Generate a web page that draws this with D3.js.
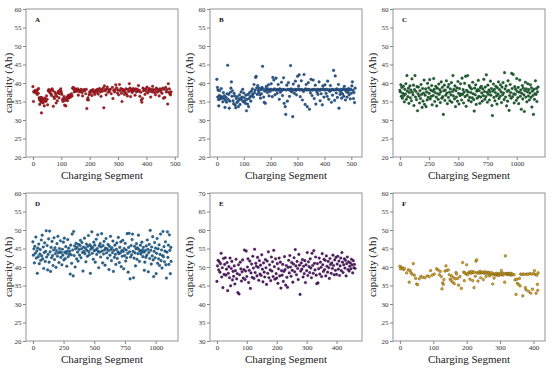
<!DOCTYPE html>
<html>
<head>
<meta charset="utf-8">
<script src="https://cdn.jsdelivr.net/npm/d3@7"></script>
<style>
  body { margin: 0; background: #fff; }
  text { font-family: "Liberation Serif", "Times New Roman", serif; }
</style>
</head>
<body>
<div class="canvas"></div>
<script>
// capacity readings per charging segment, [segment, Ah]
const dataA = [[0,39],[2,35],[3,37.6],[5,37.8],[7,37.5],[9,38],[11,37.4],[13,37.7],[15,36.9],[17,38.2],[19,37.2],[20,38.5],
[22,36],[23,35.5],[24,34.2],[25,35.8],[27,35.2],[28,36.1],[29,34.8],[30,31.9],[31,35.5],[32,36],[33,35.1],[35,35.6],[36,34.6],[38,35.3],[40,33.8],[42,35.9],[44,35.2],[46,35],[48,36.5],[50,35.6],[52,34.1],[54,37.9],
[56,38.2],[58,37.7],[60,37.4],[62,38.1],[64,37],[66,36.6],[68,38.4],[70,37.9],[72,33.7],[74,36.2],[76,35.8],[78,37.5],[80,36.9],[82,34.6],[84,36.4],[86,35.2],[88,37.3],[90,37.8],[92,36],[94,37.1],[96,38],[98,38.4],[100,37.6],
[102,36.9],[104,35.5],[106,35],[108,35.8],[110,36.3],[112,34],[114,35.3],[116,33.8],[118,35.7],[120,36.1],[122,35.2],[124,36.6],[126,35.9],[128,36.3],[130,36.8],[133,36.2],[136,37.1],[138,36.5],
[140,38.6],[142,38.8],[144,38.3],[146,37.6],[148,38.5],[150,37.9],[152,38.2],[155,37.7],[158,38.4],[160,36.7],[162,38],[165,37.6],[168,38.1],[170,38.3],[173,37.4],[175,36.5],[178,37.9],[180,38.2],[183,38],[186,37.1],[188,38.3],[190,33.1],[192,35.5],[194,36],[196,35.4],[198,36.8],[200,37.6],[202,37.2],[205,38],[208,36.6],[210,37.7],[212,38.2],[215,37.4],[218,36.9],[220,37.8],[223,38.1],[225,37.5],[228,38.3],[230,37],[232,37.9],[235,38.5],[238,37.6],[240,36.4],[242,38.2],[245,37.8],[248,38.6],[250,33.3],[252,39.2],[254,37.9],[256,38.1],[258,36.8],[260,38.4],[262,38.9],[265,37.5],[268,38.2],[270,37.7],[273,38.3],[276,37.1],[280,38.8],[282,35.8],[285,38],[288,37.6],[290,38.2],[292,39.5],[295,38.7],[298,37.3],[300,38.1],[302,36.8],[305,39.6],[307,37.9],[310,38.5],[312,37.2],[314,35],[316,38.3],[318,37.8],[320,38.1],[323,36.9],[325,37.6],[328,38.4],[330,37.1],[333,36.5],[335,38.2],[338,37.7],[340,39.8],[342,38.6],[344,36.3],[346,37.9],[348,38.2],[350,37.4],[353,38.5],[355,37.9],[358,38.1],[360,36.7],[362,38.4],[365,37.6],[368,38.3],[370,37.8],[372,39.3],[375,38],[377,36.4],[380,37.5],[382,35.4],[384,34.8],[386,35.8],[388,38.6],[390,37.9],[392,38.2],[395,36.9],[398,38.4],[400,37.7],[402,38.9],[405,37.3],[408,38.1],[410,38.5],[412,37.8],[415,36.2],[418,38.3],[420,37.6],[422,39.1],[425,38.2],[428,37.4],[430,38],[432,36.8],[435,38.6],[438,37.5],[440,38.2],[442,37.9],[445,36.5],[448,38.4],[450,37.7],[452,38.1],[455,37.2],[458,38.6],[460,35.9],[462,38.3],[465,36.1],[468,38.8],[470,37.6],[472,38.2],[475,34.3],[477,39.8],[479,37.5],[481,38.4],[483,37],[485,36.8],[487,37.6]];

const dataB = [[0,41],[2,38.8],[3,36.2],[4,38.1],[6,35.5],[7,33.8],[9,36.6],[10,37.9],[12,35.7],[14,36.4],[16,38.5],[18,35.9],[20,36.2],[22,34.9],[24,37.4],[26,35.8],[28,36.6],[30,33.4],[32,35.3],[34,36.1],[36,34.8],[38,37.1],[40,44.8],[42,35.6],[44,36.9],[46,33.2],[48,35.1],[50,37.5],[52,38.6],[54,40.3],[56,36.4],[58,37.9],[60,35.2],[62,34.4],[64,37.2],[66,36.5],[68,34],[70,33.3],[72,35.8],[74,34.7],[76,36.3],[78,35],[80,33.6],[82,35.5],[84,36.8],[86,34.2],[88,35.9],[90,37.6],[92,35.4],[94,36.2],[96,38.3],[98,34.9],[100,37.3],[102,36],[104,35.2],[106,34.5],[108,36.7],[110,32.5],[112,35.6],[114,34.3],[116,36.9],[118,33.6],[120,35.8],[122,37.4],[124,36.3],[126,35.1],[128,37.8],[130,36.6],[132,38.4],[134,37],[136,36.2],[138,39.6],[140,37.4],[142,38.1],[144,41.5],[146,41.8],[148,38.7],[150,36.9],
[152,39.3],[154,38],[156,37.5],[158,38.6],[160,36.8],[162,35.9],[164,38.2],[166,37.1],[168,38.8],[170,44.5],[172,38.3],[174,36.2],[176,34.8],[178,37.8],[180,34.5],[182,38.5],[184,39.1],[186,38.1],[188,37.4],[190,38.4],[192,39.5],[194,36.5],[196,38],[198,37.7],[200,38.3],[202,39.8],[204,38.2],[206,36.3],[208,41.5],[210,38.1],[212,40.8],[214,38.4],[216,36.8],[218,38.2],[220,41.3],[222,38],[224,37.2],[226,38.3],[228,39.6],[230,38.1],[232,35.6],[234,38.4],[236,37.5],[238,38.2],[240,40.2],[242,38],[244,36.6],[246,38.3],[248,41.4],[250,34.5],[252,38.2],[254,33.6],[256,31.5],[258,38.1],[260,39.4],[262,35.1],[264,38.3],[266,40.1],[268,38.2],[270,36.4],[272,38],[274,44.7],[276,38.4],[278,37.6],[280,38.2],[282,30.9],[284,39.7],[286,38.1],[288,37.2],[290,38.3],[292,40.5],[294,38],[296,36.8],[298,38.2],[300,41.8],[302,38.4],[304,39.2],[306,42.2],[308,38.1],[310,36.3],[312,38.3],[314,40.6],[316,38.2],[318,35.4],[320,38],[322,37.7],[324,42.3],[326,38.2],[328,34.2],[330,38.4],[332,39.6],[334,38.1],[336,33.6],[338,38.2],[340,40.1],[342,38.3],[344,32.9],[346,38],[348,37.3],[350,41],[352,38.2],[354,36.6],[356,38.1],[358,40.8],[360,38.3],[362,35.8],[364,38.2],[366,39.4],[368,34.3],[370,38.1],[372,37.5],[374,38.3],[376,36.9],[378,38.2],[380,40.3],[382,38],[384,35.2],[386,38.3],[388,37.1],[390,38.2],[392,34.1],[394,39.2],[396,38.4],[398,36.2],[400,38.1],[402,39.5],[404,38.2],[406,37.2],[408,38.3],[410,36.4],[412,40.5],[414,38.1],[416,35.6],[418,38.2],[420,37.7],[422,39.3],[424,38],[426,34.8],[428,38.3],[430,36.7],[432,38.2],[434,43.4],[436,38.1],[438,35.3],[440,41.9],[442,38.2],[444,37.3],[446,38.4],[448,36.1],[450,38.2],[452,39.6],[454,33.2],[456,38],[458,36.9],[460,38.3],[462,37.5],[464,35.9],[466,38.2],[468,37],[470,38.4],[472,36.4],[474,39.1],[476,38.1],[478,35.4],[480,38.3],[482,37.6],[484,36.2],[486,38.2],[488,37.4],[490,38.5],[492,36.8],[494,38.1],[496,35.7],[498,38.3],[500,37.2],[502,39.2],[504,40.3],[506,38],[508,35.8],[510,37.4],[512,34.7],[514,38.6]];

const dataC = [[0,38],[4,37.6],[8,39.5],[12,36.4],[16,38.8],[21,35.9],[25,37.2],[30,39.1],[34,36.6],[38,34.9],[42,38.3],[47,37],[51,39.8],[55,35.6],[60,42],[64,37.8],[68,36.3],[73,38.6],[77,34.5],[81,37.4],[86,39.2],[90,36],[94,38.1],[99,35.2],[103,41.1],[107,37.5],[112,36.8],[116,39.4],[120,33.9],[125,38.2],[129,42],[133,36.2],[138,37.7],[142,35.5],[146,39],[151,32.5],[155,37.1],[159,38.9],[164,36.5],[168,34.6],[172,37.9],[177,35.8],[181,39.6],[185,36.9],[190,33.4],[194,38.5],[198,35.1],[203,37.3],[207,40.8],[211,34.2],[216,36.7],[220,38.4],[224,33.6],[229,37.6],[233,35.4],[237,39.9],[242,36.1],[246,38.7],[250,37.2],[255,40.9],[259,35.7],[263,38.1],[268,36.4],[272,39.3],[276,34.1],[281,37.8],[285,36.6],[289,41.2],[294,38.3],[298,35],[302,37.4],[307,39.1],[311,36.2],[315,33.8],[320,38.6],[324,37.1],[328,35.6],[333,39.7],[337,36.9],[341,38.2],[346,34.7],[350,37.6],[354,40.3],[359,35.9],[363,38.8],[367,36.3],[372,31.5],[376,37.9],[380,39.4],[385,35.3],[389,38.1],[393,36.7],[398,40.6],[402,37.3],[406,34.4],[411,38.9],[415,36.1],[419,39.6],[424,37.5],[428,35.2],[432,38.4],[437,36.8],[441,40.1],[445,34.8],[450,37.7],[454,42],[458,36.5],[463,38.3],[467,35.7],[471,39.2],[476,33.6],[480,37.9],[484,36.2],[489,38.7],[493,35.1],[497,40.4],[502,37.2],[506,34.3],[510,38.5],[515,36.6],[519,39.8],[523,37],[528,35.4],[532,41.3],[536,36.9],[541,38.2],[545,34.6],[549,37.5],[554,39.9],[558,36.3],[562,41.8],[567,33.7],[571,38],[575,36.7],[580,42],[584,37.6],[588,35.3],[593,39.3],[597,36.1],[601,38.8],[606,37.4],[610,34.9],[614,38.4],[619,36],[623,40.2],[627,37.1],[632,35.5],[636,32.4],[640,38.6],[645,36.8],[649,39.5],[653,34.2],[658,37.8],[662,35.9],[666,38.2],[671,40.7],[675,36.4],[679,37.9],[684,34.5],[688,38.7],[692,36.2],[697,39.1],[701,37.3],[705,35.1],[710,38.4],[714,36.6],[718,41],[723,37.7],[727,35.6],[731,38.9],[736,36.3],[740,42.2],[744,37.5],[749,34.8],[753,39.4],[757,36.9],[762,38.1],[766,35.4],[770,37.6],[775,40.5],[779,36.7],[783,38.5],[788,33.9],[792,31.2],[796,37.8],[801,39.7],[805,36.1],[809,38.3],[814,35.2],[818,37.4],[822,39.1],[827,36.5],[831,34.3],[835,38.7],[840,37],[844,40.3],[848,35.8],[853,38.2],[857,36.4],[861,39.5],[866,37.6],[870,34.7],[874,38.9],[879,36.8],[883,40.1],[887,37.3],[892,35.5],[896,42.8],[900,38.4],[905,36.2],[909,39.2],[913,33.8],[918,37.7],[922,35.1],[926,40.6],[931,38],[935,32.6],[939,36.6],[944,39.6],[948,37.4],[952,35.9],[957,42.6],[961,38.5],[965,36.3],[970,42.3],[974,37.1],[978,34.6],[983,39],[987,36.9],[991,38.3],[996,35.3],[1000,41.2],[1004,37.7],[1009,36],[1013,38.8],[1017,34.4],[1022,37.5],[1026,40.8],[1030,36.4],[1035,38.1],[1039,32.9],[1043,37.2],[1048,39.3],[1052,35.7],[1056,38.6],[1061,36.8],[1065,32.3],[1069,37.9],[1074,40.2],[1078,36.2],[1082,38.4],[1087,34.9],[1091,37.6],[1095,39.8],[1100,36.5],[1104,38.2],[1108,35.4],[1113,37.3],[1117,39.5],[1121,36.1],[1126,38.7],[1130,33.5],[1134,37.8],[1139,36.6],[1143,31.5],[1147,38.3],[1152,35.6],[1156,37.1],[1160,40.6],[1165,36.9],[1169,38.5],[1173,35],[1178,37.6],[1183,38.9]];

const dataD = [[0,46.8],[4,43.2],[8,44.9],[12,41.1],[16,45.6],[20,43.7],[24,48.1],[28,42.4],[32,44.3],[36,38.3],[40,45.1],[44,42.8],[48,46.2],[52,40.9],[56,43.5],[60,44.7],[64,41.8],[68,47.3],[72,43],[76,48.6],[80,42.2],[84,45.4],[88,39.6],[92,43.9],[96,46.5],[100,41.5],[104,44.2],[108,49.8],[112,42.7],[116,45.8],[120,39.2],[124,43.4],[128,47.6],[132,41.3],[136,49.7],[140,44.1],[144,38.8],[148,45.3],[152,42.5],[156,46.9],[160,43.1],[164,40.4],[168,44.6],[172,47.9],[176,42],[180,45.2],[184,43.6],[188,39.9],[192,44.4],[196,46.3],[200,42.9],[204,48.3],[208,43.8],[212,41.2],[216,45],[220,44.1],[224,47.1],[228,42.6],[232,43.9],[236,40.6],[240,44.8],[244,43.2],[248,46.7],[252,41.9],[256,47.8],[260,44],[264,42.3],[268,45.5],[272,43.7],[276,40.2],[280,44.3],[284,47.4],[288,42.8],[292,45.1],[296,43.5],[300,44.2],[304,38.1],[308,45.9],[312,43.3],[316,41],[320,48.9],[324,44.6],[328,37.6],[332,49.6],[336,43.1],[340,45.7],[344,40],[348,44.9],[352,46.4],[356,42.2],[360,45.3],[364,44],[368,41.6],[372,46.1],[376,44.7],[380,43.2],[384,45.8],[388,47.2],[392,42.5],[396,44.9],[400,46.6],[404,43.9],[408,38.9],[412,45.4],[416,44.2],[420,47.8],[424,43.6],[428,45.1],[432,41.4],[436,46.2],[440,44.5],[444,42.9],[448,45.6],[452,48.5],[456,44.1],[460,43.3],[464,46],[468,38.3],[472,44.8],[476,45.5],[480,49.5],[484,43.7],[488,45.2],[492,42.1],[496,46.7],[500,44.4],[504,45.9],[508,41.3],[512,44.6],[516,47.5],[520,43.4],[524,45],[528,48.7],[532,44.2],[536,39.8],[540,45.7],[544,44],[548,46.3],[552,42.7],[556,45.4],[560,49],[564,44.3],[568,41.1],[572,45.8],[576,43.5],[580,46.9],[584,44.6],[588,40.5],[592,45.1],[596,47.7],[600,43.8],[604,44.9],[608,42.4],[612,46.1],[616,44.4],[620,39.3],[624,45.6],[628,43.2],[632,48.3],[636,44.7],[640,41.7],[644,45.2],[648,43.9],[652,47],[656,38.8],[660,44.5],[664,42.6],[668,45.9],[672,43.4],[676,40.7],[680,44.8],[684,46.5],[688,42.3],[692,44.1],[696,48],[700,43.6],[704,41.2],[708,45.3],[712,43.8],[716,46.8],[720,40.1],[724,44.4],[728,42.9],[732,47.2],[736,44.2],[740,39.5],[744,45],[748,43.1],[752,46.4],[756,41.6],[760,44.6],[764,42.5],[768,49],[772,43.7],[776,38.6],[780,45.3],[784,49.1],[788,44.1],[792,36.8],[796,42.7],[800,45.8],[804,43.3],[808,47.4],[812,48.9],[816,44.2],[820,37.1],[824,42.4],[828,45.6],[832,43.8],[836,40.3],[840,44.9],[844,46.3],[848,42.1],[852,45.2],[856,43.6],[860,48.6],[864,44.7],[868,41.5],[872,44.3],[876,45.9],[880,43.5],[884,44.1],[888,46.7],[892,44.6],[896,42.8],[900,45.3],[904,44],[908,39.1],[912,41.3],[916,44.4],[920,42.6],[924,45.7],[928,43.2],[932,47.3],[936,44.8],[940,38.7],[944,43.9],[948,46.1],[952,42.3],[956,49.9],[960,44.5],[964,40.8],[968,45.4],[972,43],[976,48.2],[980,41.9],[984,37.4],[988,44.2],[992,46.6],[996,42.5],[1000,45.1],[1004,38.2],[1008,43.7],[1012,47.7],[1016,41],[1020,44.9],[1024,42.2],[1028,46],[1032,40.4],[1036,43.4],[1040,48.9],[1044,41.7],[1048,44.6],[1052,39.7],[1056,43.1],[1060,49.6],[1064,42.8],[1068,45.5],[1072,41.4],[1076,44.3],[1080,46.8],[1084,40.6],[1088,37],[1092,44],[1096,49.5],[1100,42.6],[1104,45.9],[1108,40.7],[1112,48.7],[1116,44.5],[1120,38.2],[1124,45.3],[1126,41.5]];

const dataE = [[0,46.1],[2,50.3],[4,51.8],[6,49.2],[8,51.4],[10,48.6],[12,50.9],[14,53.7],[16,47.3],[18,49.8],[20,44.4],[22,52.3],[24,48],[26,50.7],[28,52.5],[30,47.8],[32,49.4],[34,51.2],[36,43.6],[38,48.3],[40,50.1],[42,47.1],[44,52.4],[46,44.9],[48,49.6],[50,51.5],[52,46.5],[54,48.8],[56,47.5],[58,50.3],[60,45.4],[62,49],[64,52.1],[66,46.8],[68,48.2],[70,43.1],[72,50.6],[74,42.7],[76,47.9],[78,51.3],[80,49.5],[82,46.2],[84,48.7],[86,51.9],[88,47],[90,49.3],[92,54.6],[94,46.6],[96,48.9],[98,54.3],[100,47.4],[102,50],[104,52.2],[106,45.8],[108,49.1],[110,51.6],[112,44.2],[114,48.4],[116,50.8],[118,47.2],[120,52.9],[122,49.7],[124,46.9],[126,54.8],[128,48.5],[130,51],[132,50.2],[134,47.6],[136,52.6],[138,49.9],[140,46.4],[142,51.7],[144,48.1],[146,50.5],[148,47.7],[150,53.3],[152,49.4],[154,46],[156,51.1],[158,48.6],[160,47.3],[162,52],[164,49.8],[166,45.3],[168,51.6],[170,48.3],[172,54.1],[174,47.1],[176,50.6],[178,49.2],[180,46.3],[182,52.7],[184,48.9],[186,51.4],[188,47.4],[190,54.5],[192,50.1],[194,46.7],[196,52.2],[198,48.2],[200,47],[202,50.9],[204,45.6],[206,49.5],[208,52.4],[210,47.6],[212,51.3],[214,44.3],[216,49],[218,47.8],[220,50.7],[222,46.1],[224,48.8],[226,52.8],[228,49.3],[230,45.1],[232,50.4],[234,47.2],[236,44.5],[238,49.9],[240,51.8],[242,48.4],[244,53.1],[246,50],[248,47.5],[250,51.2],[252,49.1],[254,45.9],[256,50.8],[258,52.5],[260,48.7],[262,54.7],[264,50.3],[266,47.9],[268,51.5],[270,49.6],[272,46.6],[274,53.4],[276,50.5],[278,42.6],[280,48.9],[282,51.1],[284,49.4],[286,52],[288,47.3],[290,50.2],[292,48.2],[294,51.7],[296,45.8],[298,50.6],[300,49],[302,53.9],[304,47.7],[306,51.4],[308,50.1],[310,48.5],[312,52.2],[314,49.7],[316,47.1],[318,53.7],[320,50.4],[322,48.3],[324,54.4],[326,51],[328,49.2],[330,52.7],[332,47.8],[334,45.5],[336,50.9],[338,45.7],[340,49.5],[342,52.4],[344,48.1],[346,51.3],[348,49.9],[350,47.4],[352,53.6],[354,50.6],[356,48.8],[358,52.1],[360,49.3],[362,51.8],[364,47.6],[366,53],[368,50.2],[370,48.6],[372,51.5],[374,49.8],[376,46.9],[378,52.3],[380,50.7],[382,48.3],[384,51.1],[386,49.6],[388,53.2],[390,50.4],[392,47.9],[394,51.9],[396,49.1],[398,52.6],[400,48],[402,50.8],[404,52.9],[406,49.4],[408,51.6],[410,47.7],[412,50.3],[414,52.4],[416,49],[418,53.9],[420,51.3],[422,48.5],[424,50.6],[426,52.2],[428,49.7],[430,51.8],[432,47.6],[434,50.9],[436,52.7],[438,49.3],[440,51.4],[442,48.9],[444,50.2],[446,51.1],[448,49.5],[450,52.1],[452,50.6],[454,48.4],[456,51.7],[458,49.8],[460,50.7],[462,49.6]];

const dataF = [[0,40.2],[2,39.5],[5,39.9],[8,39.7],[11,39.3],[14,39.6],[20,38.4],[25,39.2],[28,35.9],[30,39.1],[33,38.5],[36,38.1],[40,40.9],[43,37.8],[47,36.9],[50,35.4],[53,35.2],[58,36.8],[63,37.5],[68,37.2],[75,37.1],[82,37.6],[88,37.4],[92,39],[97,37.8],[103,38.1],[110,39.5],[114,39.2],[118,37.9],[121,38.8],[124,37.4],[126,34.1],[128,35.7],[130,35.3],[132,36.6],[135,38.9],[138,40.3],[141,39.1],[145,39.2],[148,37.9],[151,36.7],[153,36.4],[155,37.6],[158,35.9],[161,37.1],[163,35.5],[166,36.8],[168,38.5],[170,38.1],[173,36.9],[176,35.1],[180,37.4],[184,34.2],[188,41.2],[191,38.6],[193,36.3],[195,38.4],[198,38.1],[200,40.6],[203,37.9],
[206,38.4],[208,38.7],[210,36.7],[212,38.5],[214,38.3],[216,38.8],[218,36.3],[220,38.5],[222,34.4],[224,38.6],[226,37.5],[228,41.6],[230,41.9],[232,38.4],[234,36.2],[236,38.6],[238,38.3],[240,38.8],[242,37.1],[244,38.4],[246,38.6],[248,38.5],[250,36.6],[252,38.3],[254,38.7],[256,38.4],[258,37.4],[260,38.5],[262,38.2],[264,38.6],[266,38.4],[268,37.6],[270,38.3],[272,38.1],[274,38.5],[276,37.9],[278,35.4],[280,38.2],[282,37],[284,38],[286,38.1],[288,37.8],[290,38.3],[292,37.9],[294,38.1],[296,37.7],[298,38.2],[300,37.9],[302,38.1],[304,39],[306,38.2],[308,37.8],[310,38.3],[312,38.1],[314,35.9],[316,43],[318,38.2],[320,38],[322,38.3],[324,38.1],[326,37.9],[328,38.2],[330,38],[332,38.3],[334,37.8],[336,38.1],[338,38],
[342,37.9],[345,36.5],[348,32.6],[350,36.7],[352,35.6],[355,35.3],[358,36.9],[360,34.9],[362,38.1],[365,38],[368,32.2],[370,38.1],[373,38],[376,34.4],[378,33.8],[380,38.1],[383,38],[386,33.4],[389,38.2],[392,32.9],[394,38.1],[397,34],[400,38.2],[403,39],[405,38],[408,32.9],[410,37.8],[412,35.3],[413,33.7],[414,38.4]];

// tick values
const xTicks500 = [0, 100, 200, 300, 400, 500];
const xTicks1000 = [0, 250, 500, 750, 1000];
const xTicks400 = [0, 100, 200, 300, 400];
const yTicks20 = [20, 25, 30, 35, 40, 45, 50, 55, 60];
const yTicks30 = [30, 35, 40, 45, 50, 55, 60, 65, 70];

const panels = [
  { letter: 'A', data: dataA, color: '#c0141c', xTicks: xTicks500, yTicks: yTicks20, col: 0, row: 0 },
  { letter: 'B', data: dataB, color: '#1f5c9e', xTicks: xTicks500, yTicks: yTicks20, col: 1, row: 0 },
  { letter: 'C', data: dataC, color: '#14662a', xTicks: xTicks1000, yTicks: yTicks20, col: 2, row: 0 },
  { letter: 'D', data: dataD, color: '#1d6ba3', xTicks: xTicks1000, yTicks: yTicks20, col: 0, row: 1 },
  { letter: 'E', data: dataE, color: '#5a1670', xTicks: xTicks400, yTicks: yTicks30, col: 1, row: 1 },
  { letter: 'F', data: dataF, color: '#dba514', xTicks: xTicks400, yTicks: yTicks20, col: 2, row: 1 }
];

// layout
const width = 550;
const height = 368;
const colLeft = [26, 210, 393];
const rowTop = [9, 193];
const plotW = 152;
const plotH = 148;
const yLabelOffset = [17, 20, 20];

const svg = d3
  .select('.canvas')
  .append('svg')
  .attr('width', width)
  .attr('height', height);

panels.forEach(p => {
  const g = svg
    .append('g')
    .attr('transform', `translate(${colLeft[p.col]}, ${rowTop[p.row]})`);

  // matplotlib style 5% padding on x
  const ext = d3.extent(p.data, d => d[0]);
  const pad = (ext[1] - ext[0]) * 0.05;
  const x = d3.scaleLinear().domain([ext[0] - pad, ext[1] + pad]).range([0, plotW]);
  const y = d3.scaleLinear().domain(d3.extent(p.yTicks)).range([plotH, 0]);

  const xAxis = d3.axisBottom(x).tickValues(p.xTicks).tickFormat(d3.format('d')).tickSize(3).tickPadding(1.5);
  const yAxis = d3.axisLeft(y).tickValues(p.yTicks).tickFormat(d3.format('d')).tickSize(3).tickPadding(1.5);

  const xg = g.append('g').attr('transform', `translate(0, ${plotH})`).call(xAxis);
  const yg = g.append('g').call(yAxis);

  [xg, yg].forEach(ag => {
    ag.select('.domain').remove();
    ag.selectAll('line').attr('stroke', '#666').attr('stroke-width', 0.8);
    ag.selectAll('text')
      .attr('fill', '#333')
      .style('font-size', '7px')
      .style('font-family', '"Liberation Serif", "Times New Roman", serif');
  });

  // points
  g.append('g')
    .selectAll('circle')
    .data(p.data)
    .enter()
    .append('circle')
    .attr('cx', d => x(d[0]))
    .attr('cy', d => y(d[1]))
    .attr('r', 1.35)
    .attr('fill', p.color)
    .attr('stroke', '#222')
    .attr('stroke-width', 0.3);

  // frame
  g.append('rect')
    .attr('width', plotW)
    .attr('height', plotH)
    .attr('fill', 'none')
    .attr('stroke', '#888')
    .attr('stroke-width', 0.9);

  // panel letter
  g.append('text')
    .attr('x', 9)
    .attr('y', 13)
    .attr('font-size', 7)
    .attr('font-weight', 'bold')
    .attr('fill', '#111')
    .text(p.letter);

  // axis titles
  g.append('text')
    .attr('x', plotW / 2)
    .attr('y', plotH + 22)
    .attr('text-anchor', 'middle')
    .attr('font-size', 11)
    .attr('fill', '#222')
    .text('Charging Segment');

  g.append('text')
    .attr('transform', `translate(${-yLabelOffset[p.col]}, ${plotH / 2}) rotate(-90)`)
    .attr('text-anchor', 'middle')
    .attr('dy', '0.3em')
    .attr('font-size', 11)
    .attr('fill', '#222')
    .text('capacity (Ah)');
});
</script>
</body>
</html>
